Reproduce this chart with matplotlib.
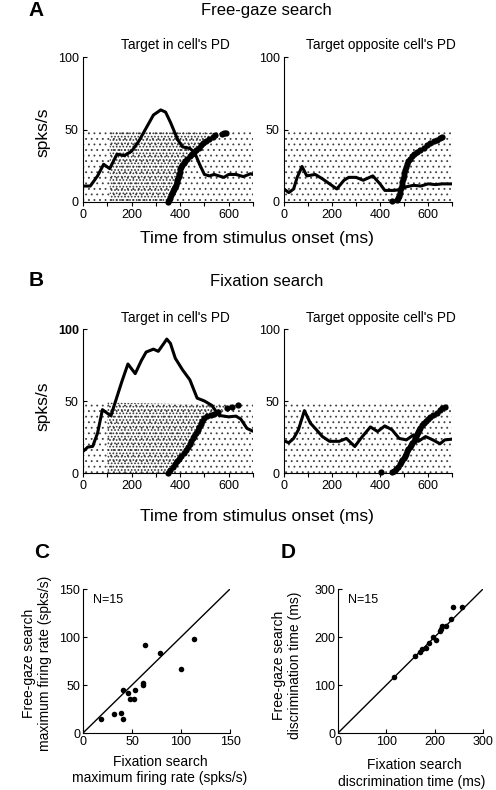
import matplotlib.pyplot as plt
from matplotlib.patches import Rectangle, Polygon

# =========================================================
# 1. DATA
# =========================================================
# --- A: free-gaze search, target in PD ---
a_pd_t = [0, 30, 60, 85, 110, 140, 170, 200, 230, 260, 290, 320, 340, 360,
          390, 410, 440, 460, 480, 500, 520, 540, 560, 580, 600, 630, 660, 690, 700]
a_pd_rate = [11, 11, 18, 26, 23, 33, 32, 35, 42, 51, 60, 63.5, 62, 55,
             43, 38, 37, 34, 26, 19, 18, 19, 18, 17, 19, 19, 17.5, 19.5, 19]
a_pd_sac_t = [350, 354, 358, 362, 366, 371, 376, 380, 383, 386, 389, 392, 394,
              396, 398, 400, 402, 408, 414, 421, 430, 440, 448, 455, 466, 478,
              486, 495, 508, 520, 535, 545, 572, 580, 590]
a_pd_sac_row = [0, 1.5, 3, 4.5, 6, 7.5, 9, 10.5, 12, 13.5, 15, 16.5, 18,
                19.5, 21, 22.5, 24, 25.5, 27, 28.5, 30, 31.5, 33, 34.5, 36, 37.5,
                39, 40.5, 42, 43.5, 45, 46, 47, 47.3, 47.5]

# --- A: free-gaze search, target opposite PD ---
a_op_t = [0, 20, 40, 55, 75, 95, 130, 160, 190, 220, 250, 270, 300, 330,
          370, 400, 420, 460, 480, 510, 540, 570, 600, 630, 660, 700]
a_op_rate = [9, 6.5, 9, 17, 24.5, 18, 19, 16, 12.5, 9, 15, 17, 17, 15,
             18, 12.5, 8, 8, 8.5, 10.5, 11.5, 11, 12.5, 12, 12.5, 12.5]
a_op_sac_t = [452, 470, 476, 479, 482, 485, 488, 490, 493, 496, 499, 502, 505,
              508, 511, 517, 525, 533, 543, 555, 568, 582, 594, 608, 624, 636,
              648, 660]
a_op_sac_row = [1, 1.5, 2.5, 4, 6, 8, 10, 12, 14, 16, 18, 20, 22,
                24, 26, 28, 30, 31.5, 33, 34.5, 36, 37.5, 39, 40.5, 42, 43,
                44, 44.8]

# --- B: fixation search, target in PD ---
b_pd_t = [0, 20, 40, 60, 80, 100, 115, 140, 160, 185, 215, 240, 260, 290,
          310, 335, 345, 360, 380, 410, 440, 470, 500, 530, 560, 600, 630,
          650, 675, 700]
b_pd_rate = [15, 18, 18.5, 27.7, 44, 41.5, 39.7, 53, 63.5, 75.7, 69, 78, 84, 86,
             84.5, 90.5, 93, 90, 79.7, 71.6, 64.7, 52, 50, 47, 40, 39, 39.5,
             37.4, 31, 29]
b_pd_sac_t = [350, 360, 369, 378, 387, 396, 405, 414, 424, 432, 439, 446, 452,
              459, 466, 472, 479, 486, 492, 500, 512, 528, 540, 555, 592, 612, 640]
b_pd_sac_row = [0, 2, 4, 6, 8, 10, 12, 14, 16, 18, 20, 22, 24,
                26, 28, 30, 32, 34, 36, 38, 39.5, 40.5, 41, 42.5, 45, 46, 47]

# --- B: fixation search, target opposite PD ---
b_op_t = [0, 20, 40, 60, 85, 110, 130, 160, 190, 230, 260, 295, 320, 360,
          390, 420, 450, 480, 510, 540, 560, 590, 620, 650, 670, 700]
b_op_rate = [22.4, 21, 24, 30, 43.3, 34.6, 31, 25.3, 22, 22, 24, 18.4, 24, 32,
             28.8, 32.7, 30, 24, 23, 26.5, 22, 25.3, 23, 20.3, 23, 23.5]
b_op_sac_t = [404, 450, 458, 468, 477, 483, 488, 493, 498, 504, 509, 513, 518,
              523, 528, 535, 540, 545, 549, 553, 558, 563, 568, 573, 582, 590,
              598, 607, 622, 636, 648, 660, 672]
b_op_sac_row = [0.8, 0.5, 1.5, 3, 4.5, 6, 7.5, 9, 10.5, 12, 13.5, 15, 16.5,
                18, 19.5, 21, 22.5, 24, 25.5, 27, 28.5, 30, 31.5, 33, 34.5, 36,
                37.5, 39, 40.5, 42, 43.5, 45, 46]

# --- C: maximum firing rate (spks/s) ---
c_fix = [18.3, 32, 38.6, 40.7, 40.7, 45.5, 48.3, 51.7, 53.4, 61, 61, 62.8,
         78.3, 100, 112.8]
c_free = [14.9, 19.4, 20.5, 14.6, 44.4, 41.7, 35.8, 35.8, 44.4, 52, 49.7,
          91.3, 83.7, 67, 98]

# --- D: discrimination time (ms) ---
d_fix = [116.6, 160, 170.3, 174.5, 182.8, 187.6, 196.6, 203.4, 211.7, 213,
         215.9, 222.8, 233, 238, 257]
d_free = [116.7, 159.7, 169.4, 175, 177.8, 187.5, 199.3, 194.4, 211.8, 216.7,
          222.2, 223.6, 237.5, 262.5, 261.8]

# =========================================================
# 2. FIGURE SETUP
# =========================================================
plt.rcParams['font.family'] = ['Liberation Sans', 'DejaVu Sans']

W, H = 496, 790
fig = plt.figure(figsize=(W / 100, H / 100), dpi=100)


def px_axes(x0, y0, x1, y1):
    return fig.add_axes([x0 / W, 1 - y1 / H, (x1 - x0) / W, (y1 - y0) / H])


def ftext(x, y, s, **kw):
    fig.text(x / W, 1 - y / H, s, ha='center', va='center', **kw)


RASTER_TOP = 49


def raster_panel(ax, t, rate, sac_t, sac_row, dense_from=None, bold100=False):
    ax.set_xlim(0, 700)
    ax.set_ylim(0, 100)

    # spike raster drawn as a stipple texture
    plt.rcParams['hatch.linewidth'] = 0.6
    ax.add_patch(Rectangle((0, 0), 700, RASTER_TOP, facecolor='none',
                           edgecolor='0.25', lw=0, hatch='...'))
    if dense_from is not None:
        plt.rcParams['hatch.linewidth'] = 0.8
        verts = [(dense_from, 0), (dense_from, RASTER_TOP)]
        verts += list(zip(sac_t[::-1], sac_row[::-1]))
        ax.add_patch(Polygon(verts, facecolor='none', edgecolor='0.2',
                             lw=0, hatch='.....'))

    ax.plot(t, rate, color='k', lw=2.2, solid_capstyle='round')
    ax.plot(sac_t, sac_row, 'o', color='k', ms=4.5, mew=0, clip_on=False)

    ax.spines['top'].set_visible(False)
    ax.spines['right'].set_visible(False)
    ax.set_xticks(range(0, 701, 100))
    ax.set_xticklabels(['0', '', '200', '', '400', '', '600', ''])
    ax.set_yticks([0, 50, 100])
    ax.tick_params(axis='x', direction='out', length=3, labelsize=9, pad=2)
    ax.tick_params(axis='y', direction='in', length=3, labelsize=9, pad=3)
    if bold100:
        ax.get_yticklabels()[-1].set_fontweight('bold')


# =========================================================
# 3. PANEL A - FREE-GAZE SEARCH
# =========================================================
ax = px_axes(83, 57, 253, 202)
raster_panel(ax, a_pd_t, a_pd_rate, a_pd_sac_t, a_pd_sac_row, dense_from=110)

ax = px_axes(284, 57, 452, 202)
raster_panel(ax, a_op_t, a_op_rate, a_op_sac_t, a_op_sac_row)

ftext(36, 11, 'A', fontsize=15, fontweight='bold')
ftext(266, 11, 'Free-gaze search', fontsize=12)
ftext(175, 45, "Target in cell's PD", fontsize=9.8)
ftext(381, 45, "Target opposite cell's PD", fontsize=9.8)
ftext(43, 132, 'spks/s', fontsize=12.5, rotation=90)
ftext(257, 238, 'Time from stimulus onset (ms)', fontsize=12.5)

# =========================================================
# 4. PANEL B - FIXATION SEARCH
# =========================================================
ax = px_axes(83, 329, 253, 473)
raster_panel(ax, b_pd_t, b_pd_rate, b_pd_sac_t, b_pd_sac_row, dense_from=100,
             bold100=True)

ax = px_axes(284, 329, 452, 473)
raster_panel(ax, b_op_t, b_op_rate, b_op_sac_t, b_op_sac_row)

ftext(36, 281, 'B', fontsize=15, fontweight='bold')
ftext(267, 281, 'Fixation search', fontsize=12)
ftext(175, 318, "Target in cell's PD", fontsize=9.8)
ftext(381, 318, "Target opposite cell's PD", fontsize=9.8)
ftext(43, 406, 'spks/s', fontsize=12.5, rotation=90)
ftext(257, 517, 'Time from stimulus onset (ms)', fontsize=12.5)


# =========================================================
# 5. PANELS C AND D - SCATTER COMPARISONS
# =========================================================
def scatter_panel(ax, xs, ys, lim, step):
    ax.plot([0, lim], [0, lim], color='k', lw=1)
    ax.plot(xs, ys, 'o', color='k', ms=4, mew=0)
    ax.set_xlim(0, lim)
    ax.set_ylim(0, lim)
    ax.set_xticks(range(0, lim + 1, step))
    ax.set_yticks(range(0, lim + 1, step))
    ax.spines['top'].set_visible(False)
    ax.spines['right'].set_visible(False)
    ax.tick_params(direction='in', length=3, labelsize=9, pad=2)


ax = px_axes(83, 589, 230, 733)
scatter_panel(ax, c_fix, c_free, 150, 50)
ax = px_axes(338, 589, 483, 733)
scatter_panel(ax, d_fix, d_free, 300, 100)

ftext(42, 553, 'C', fontsize=15, fontweight='bold')
ftext(288, 553, 'D', fontsize=15, fontweight='bold')
ftext(108, 600, 'N=15', fontsize=9)
ftext(363, 600, 'N=15', fontsize=9)

ftext(29, 663, 'Free-gaze search', fontsize=10, rotation=90)
ftext(45, 663, 'maximum firing rate (spks/s)', fontsize=10, rotation=90)
ftext(160, 762, 'Fixation search', fontsize=10)
ftext(160, 778, 'maximum firing rate (spks/s)', fontsize=10)

ftext(279, 665, 'Free-gaze search', fontsize=10, rotation=90)
ftext(295, 665, 'discrimination time (ms)', fontsize=10, rotation=90)
ftext(414, 765, 'Fixation search', fontsize=10)
ftext(412, 782, 'discrimination time (ms)', fontsize=10)

plt.savefig('out.png', dpi=100)
plt.close()
